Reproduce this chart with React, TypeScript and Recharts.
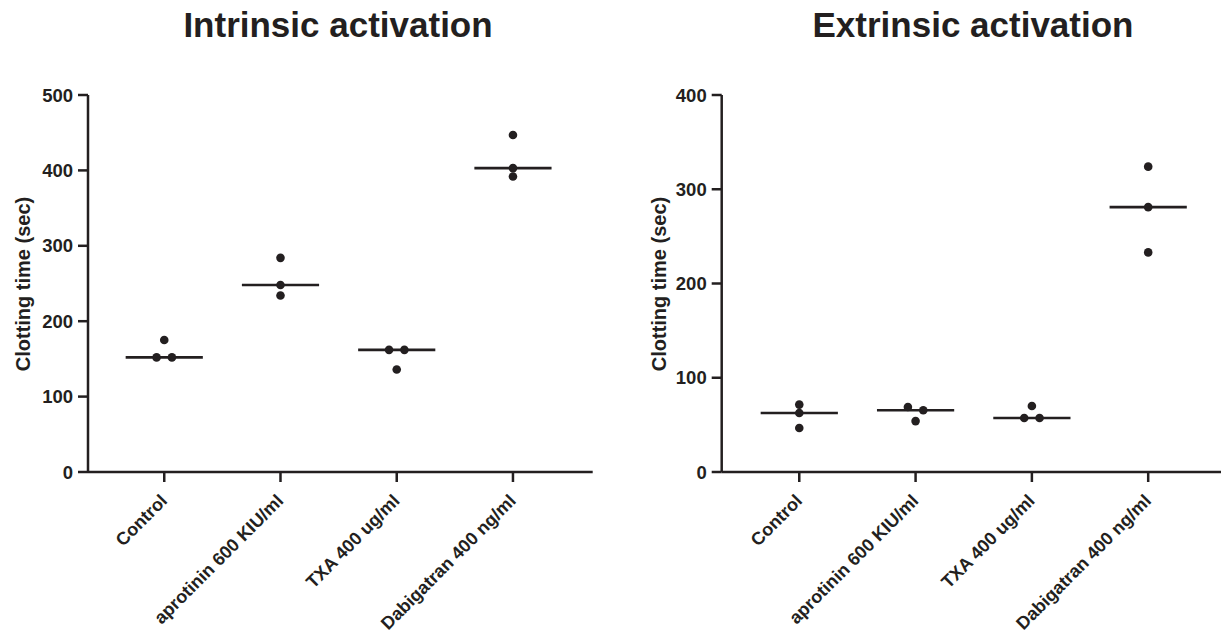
import { ScatterChart, Scatter, XAxis, YAxis, ReferenceLine } from "recharts";

const categories = [
  "Control",
  "aprotinin 600 KIU/ml",
  "TXA 400 ug/ml",
  "Dabigatran 400 ng/ml",
];

// clotting time (sec), three replicates per group
const intrinsicValues = [
  [175, 152, 152],
  [284, 248, 234],
  [162, 162, 136],
  [447, 403, 392],
];
// horizontal spread of the dots inside a group, in category units
const intrinsicJitter = [
  [0, -0.066, 0.066],
  [0, 0, 0],
  [-0.066, 0.066, 0],
  [0, 0, 0],
];

const extrinsicValues = [
  [71.5, 62.6, 46.7],
  [69, 65.5, 54],
  [70, 57.3, 57.3],
  [324, 281, 233],
];
const extrinsicJitter = [
  [0, 0, 0],
  [-0.066, 0.066, 0],
  [0, -0.066, 0.066],
  [0, 0, 0],
];

const intrinsicTicks = [0, 100, 200, 300, 400, 500];
const extrinsicTicks = [0, 100, 200, 300, 400];

const INK = "#231f20";
const FONT = "'Liberation Sans', Arial, Helvetica, sans-serif";

const median = (vals: number[]) => {
  const s = [...vals].sort((a, b) => a - b);
  return s[Math.floor(s.length / 2)];
};

const toPoints = (values: number[][], jitter: number[][]) =>
  values.flatMap((group, i) => group.map((y, j) => ({ x: i + jitter[i][j], y })));

const CategoryTick = ({ x, y, payload }: any) => {
  const ax = x + 4;
  const ay = y + 18;
  return (
    <text
      x={ax}
      y={ay}
      transform={`rotate(-45, ${ax}, ${ay})`}
      textAnchor="end"
      fontFamily={FONT}
      fontWeight="bold"
      fontSize={18}
      fill={INK}
    >
      {categories[payload.value]}
    </text>
  );
};

const Dot = ({ cx, cy }: any) => <circle cx={cx} cy={cy} r={4.3} fill={INK} />;

interface PanelProps {
  values: number[][];
  jitter: number[][];
  yTicks: number[];
  xDomain: [number, number];
  width: number;
  marginLeft: number;
  marginRight: number;
}

const Panel = ({ values, jitter, yTicks, xDomain, width, marginLeft, marginRight }: PanelProps) => {
  const points = toPoints(values, jitter);
  const axisStyle = { stroke: INK, strokeWidth: 2.5 };
  return (
    <ScatterChart
      width={width}
      height={640}
      margin={{ top: 95, right: marginRight, bottom: 48, left: marginLeft }}
    >
      <XAxis
        type="number"
        dataKey="x"
        domain={xDomain}
        ticks={[0, 1, 2, 3]}
        allowDataOverflow
        height={120}
        tickSize={10}
        axisLine={axisStyle}
        tickLine={axisStyle}
        tick={<CategoryTick />}
        interval={0}
      />
      <YAxis
        type="number"
        dataKey="y"
        domain={[yTicks[0], yTicks[yTicks.length - 1]]}
        ticks={yTicks}
        width={80}
        tickSize={10}
        tickMargin={5}
        axisLine={axisStyle}
        tickLine={axisStyle}
        tick={{ fill: INK, fontSize: 18.5, fontWeight: "bold", fontFamily: FONT }}
      />
      {values.map((group, i) => (
        <ReferenceLine
          key={i}
          segment={[
            { x: i - 0.332, y: median(group) },
            { x: i + 0.332, y: median(group) },
          ]}
          stroke={INK}
          strokeWidth={2.6}
          ifOverflow="visible"
        />
      ))}
      <Scatter data={points} shape={<Dot />} isAnimationActive={false} />
    </ScatterChart>
  );
};

export default function App() {
  const textProps = { fontFamily: FONT, fontWeight: "bold" as const, fill: INK, textAnchor: "middle" as const };
  return (
    <div style={{ position: "absolute", left: 0, top: 0, width: 1221, height: 640, background: "#fff" }}>
      <div style={{ position: "absolute", left: 0, top: 0 }}>
        <Panel
          values={intrinsicValues}
          jitter={intrinsicJitter}
          yTicks={intrinsicTicks}
          xDomain={[-0.656, 3.686]}
          width={610}
          marginLeft={8}
          marginRight={17.3}
        />
      </div>
      <div style={{ position: "absolute", left: 610, top: 0 }}>
        <Panel
          values={extrinsicValues}
          jitter={extrinsicJitter}
          yTicks={extrinsicTicks}
          xDomain={[-0.667, 3.626]}
          width={611}
          marginLeft={31.7}
          marginRight={0}
        />
      </div>
      <svg
        width={1221}
        height={640}
        style={{ position: "absolute", left: 0, top: 0, pointerEvents: "none" }}
      >
        <text x={338} y={37} fontSize={35} {...textProps}>Intrinsic activation</text>
        <text x={973} y={37} fontSize={35} {...textProps}>Extrinsic activation</text>
        <text x={30} y={284} fontSize={20} transform="rotate(-90, 30, 284)" {...textProps}>
          Clotting time (sec)
        </text>
        <text x={666} y={284} fontSize={20} transform="rotate(-90, 666, 284)" {...textProps}>
          Clotting time (sec)
        </text>
      </svg>
    </div>
  );
}
